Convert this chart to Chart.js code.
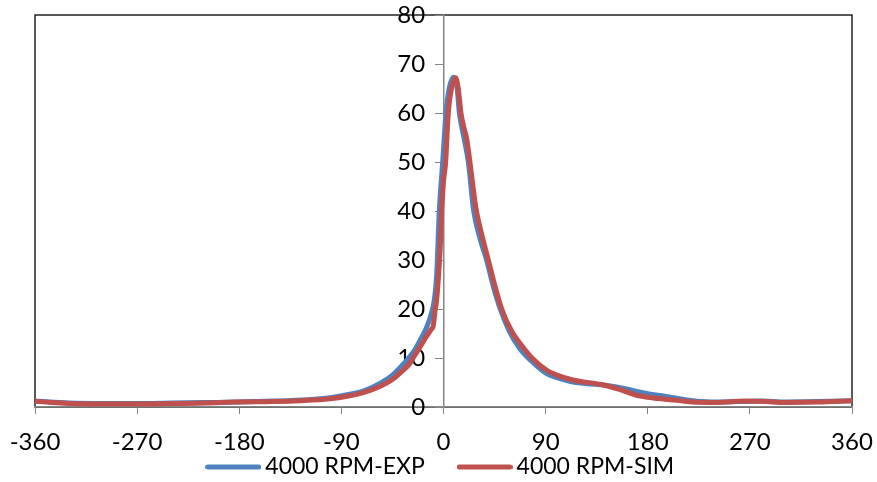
<!DOCTYPE html>
<html>
<head>
<meta charset="utf-8">
<script src="https://cdn.jsdelivr.net/npm/chart.js@4"></script>
<style>
html,body{margin:0;padding:0;background:#fff;}
#wrap{width:877px;height:482px;}
</style>
</head>
<body>
<div id="wrap"><canvas id="c" width="877" height="482"></canvas></div>
<script>
const seriesNames = ["4000 RPM-EXP", "4000 RPM-SIM"];
const seriesColors = ["#4F81BD", "#C0504D"];
const xTicks = [-360, -270, -180, -90, 0, 90, 180, 270, 360];
const yTicks = [0, 10, 20, 30, 40, 50, 60, 70, 80];

const expAngles = [-360,-330,-300,-270,-240,-210,-180,-150,-120,-100,-85,-70,-56,-45,-38,-30,-26,-20,-15,-11,-8,-6,-3.7,-0.7,2.2,5,9,12,14,18,21.9,26.6,32,38,44,50,58,67,77,91,100,114,141,155,170,180,195,208,220,240,260,280,300,330,360];
const expValues = [1.2,0.8,0.7,0.7,0.8,0.9,1.0,1.2,1.5,1.9,2.5,3.3,4.8,6.5,8.1,10.2,11.4,13.9,16.2,18.8,22,27,40,50,60,65,67.3,65,60,55,50,40,34.5,30,24.5,20,15.5,12,9.5,6.8,6.0,5.1,4.5,4.0,3.2,2.7,2.2,1.7,1.3,1.0,1.1,1.2,1.0,1.1,1.3];

const simAngles = [-360,-345,-330,-300,-270,-240,-210,-185,-150,-126,-100,-85,-70,-56,-45,-38,-30,-26,-20,-15,-11,-9,-7.5,-6,-4.6,-3,-1.6,0,1.9,4.2,7,10.7,13,15.4,18,20.4,23.3,26,28.3,33.5,39.5,45,51.3,60,67.4,78,91,100,114,141,155,170,180,195,208,220,240,265,285,300,330,360];
const simValues = [1.2,0.9,0.7,0.6,0.6,0.7,0.8,1.0,1.1,1.3,1.7,2.2,3.0,4.2,5.6,7.0,8.8,10.3,12.5,14.4,15.8,16.6,19.5,22,26,32,40,46,50,60,65,67.2,65,60,57,54.8,50,45,41,35.4,30,25,20,15.5,13,10,7.5,6.5,5.5,4.5,3.6,2.4,2.0,1.6,1.3,1.0,0.9,1.2,1.1,0.9,1.0,1.3];

const toPts = (xs, ys) => xs.map((x, i) => ({x: x, y: ys[i]}));

// legend line markers (thick round-capped strokes)
const makeMarker = color => {
  const c = document.createElement('canvas');
  c.width = 56; c.height = 8;
  const g = c.getContext('2d');
  g.strokeStyle = color; g.lineWidth = 5; g.lineCap = 'round';
  g.beginPath(); g.moveTo(2.5, 4); g.lineTo(53.5, 4); g.stroke();
  return c;
};
const markers = seriesColors.map(makeMarker);

const plotBorder = {
  id: 'plotBorder',
  beforeDraw(chart) {
    const a = chart.chartArea, ctx = chart.ctx;
    ctx.save();
    ctx.strokeStyle = '#000';
    ctx.lineWidth = 1.3;
    ctx.strokeRect(a.left, a.top, a.right - a.left, a.bottom - a.top);
    ctx.restore();
  }
};

const TICK_FONT = {family: 'Lato', size: 24, lineHeight: 1};
const LEGEND_FONT = {family: 'Lato', size: 23};

new Chart(document.getElementById('c'), {
  type: 'line',
  data: {
    datasets: [
      {label: seriesNames[0], data: toPts(expAngles, expValues), borderColor: seriesColors[0], backgroundColor: seriesColors[0], order: 1,
       pointStyle: markers[0],
       borderWidth: 5, pointRadius: 0, cubicInterpolationMode: 'monotone', borderCapStyle: 'round', borderJoinStyle: 'round'},
      {label: seriesNames[1], data: toPts(simAngles, simValues), borderColor: seriesColors[1], backgroundColor: seriesColors[1], order: 0,
       pointStyle: markers[1],
       borderWidth: 5, pointRadius: 0, cubicInterpolationMode: 'monotone', borderCapStyle: 'round', borderJoinStyle: 'round'}
    ]
  },
  options: {
    responsive: false,
    animation: false,
    devicePixelRatio: 1,
    layout: {padding: {left: 35, right: 25, top: 15, bottom: -6.5}},
    plugins: {
      legend: {
        position: 'bottom',
        labels: {
          usePointStyle: true, pointStyleWidth: 41, color: '#000', font: LEGEND_FONT, padding: 4,
          generateLabels: chart => {
            const items = Chart.defaults.plugins.legend.labels.generateLabels(chart);
            items.sort((a, b) => a.datasetIndex - b.datasetIndex);
            items.forEach((it, i) => {
              it.pointStyle = markers[it.datasetIndex];
              if (i < items.length - 1) it.text = it.text + '      ';
            });
            return items;
          }
        }
      },
      tooltip: {enabled: false}
    },
    scales: {
      x: {
        type: 'linear', min: xTicks[0], max: xTicks[xTicks.length - 1],
        afterBuildTicks: s => { s.ticks = xTicks.map(v => ({value: v})); },
        afterFit: s => { s.paddingLeft = 0; s.paddingRight = 0; s.height = 44.5; },
        ticks: {color: '#000', font: TICK_FONT, padding: 16.7, maxRotation: 0, autoSkip: false},
        grid: {drawOnChartArea: false, drawTicks: true, tickLength: 7, color: '#868686'},
        border: {display: true, color: '#868686', width: 1.5}
      },
      y: {
        type: 'linear', min: yTicks[0], max: yTicks[yTicks.length - 1],
        position: {x: 0},
        afterBuildTicks: s => { s.ticks = yTicks.map(v => ({value: v})); },
        afterFit: s => { s.paddingTop = 0; s.paddingBottom = 0; },
        ticks: {color: '#000', font: TICK_FONT, padding: 5, autoSkip: false, callback: v => v + '   '},
        grid: {drawOnChartArea: false, drawTicks: true, tickLength: 8, color: '#868686'},
        border: {display: true, color: '#868686', width: 1.5}
      }
    }
  },
  plugins: [plotBorder]
});
</script>
</body>
</html>
